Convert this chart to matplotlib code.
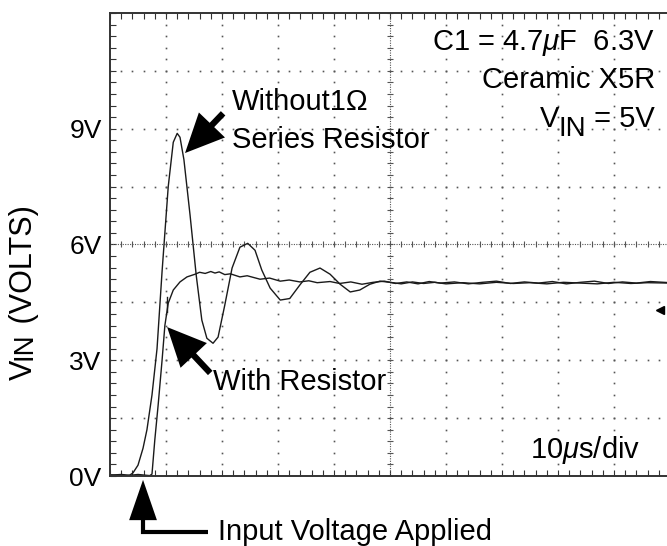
import numpy as np
import matplotlib.pyplot as plt
from matplotlib.ticker import MultipleLocator

plt.rcParams['font.family'] = ['Liberation Sans', 'DejaVu Sans']
plt.rcParams['mathtext.fontset'] = 'custom'
plt.rcParams['mathtext.rm'] = 'Liberation Sans'
plt.rcParams['mathtext.it'] = 'Liberation Sans:italic'

# scope traces, time in us (10us/div), voltage in V (1.5V/div)
t_no_res = [0, 2, 3.5, 4.1, 5.0, 5.9, 6.6, 7.5, 8.4, 9.3, 10.4, 11.3, 12.0, 12.5,
            13.2, 14.3, 15.4, 16.4, 17.3, 18.4, 19.3, 20.5, 21.8, 23.2, 24.6,
            25.9, 27.1, 28.6, 30.4, 32.1, 33.9, 35.7, 37.5, 39.3, 41.1, 42.9,
            44.6, 46.4, 48.2, 50, 52, 54, 56, 58, 60, 63, 66, 69, 72, 75, 78,
            81, 84, 87, 90, 93, 96, 100]
v_no_res = [0.02, 0.04, 0.02, 0.08, 0.28, 0.72, 1.2, 2.1, 3.3, 5.3, 7.5, 8.65,
            8.88, 8.78, 8.2, 6.76, 5.2, 4.04, 3.57, 3.44, 3.6, 4.43, 5.39, 5.93,
            6.03, 5.85, 5.34, 4.87, 4.56, 4.6, 4.95, 5.28, 5.39, 5.23, 4.97,
            4.77, 4.82, 4.97, 5.05, 5.02, 4.98, 5.03, 4.99, 5.02, 4.98, 5.01,
            4.98, 5.02, 4.99, 5.01, 4.98, 5.02, 5.0, 4.98, 5.02, 4.99, 5.01, 5.0]

t_res = [0, 3, 5, 7.1, 7.5, 8.0, 8.6, 9.3, 9.8, 10.4, 11.3, 12.5, 13.75, 15.2,
         16.0, 17.0, 18.0, 18.75, 19.5, 20.5, 21.5, 23.2, 24.5, 26.8, 28.5,
         30.4, 32.0, 33.9, 35.5, 37.0, 39.3, 41.0, 43.0, 45.0, 47.0, 49.0, 51.0,
         53.0, 55.0, 57.0, 59.0, 61.5, 64.0, 66.5, 69.0, 71.5, 74.0, 76.5, 79.0,
         81.5, 84.0, 86.5, 89.0, 91.5, 94.0, 96.5, 100]
v_res = [0.03, 0.01, 0.04, 0.01, 0.05, 0.93, 1.84, 3.0, 3.9, 4.48, 4.82, 5.03,
         5.16, 5.23, 5.28, 5.25, 5.3, 5.26, 5.29, 5.22, 5.24, 5.16, 5.19, 5.1,
         5.13, 5.05, 5.08, 5.03, 5.06, 5.01, 5.04, 4.99, 5.03, 4.97, 5.02, 5.05,
         4.99, 5.03, 4.98, 5.04, 5.0, 5.03, 4.98, 5.02, 5.05, 4.99, 5.03, 5.0,
         5.04, 4.98, 5.02, 5.05, 4.99, 5.03, 5.0, 5.04, 5.01]

ytick_vals = [0, 3, 6, 9]
ytick_labels = ['0V', '3V', '6V', '9V']

fig = plt.figure(figsize=(6.67, 5.46), dpi=100)
ax = fig.add_axes([0.1649, 0.1282, 0.8396, 0.848])
ax.set_xlim(0, 100)
ax.set_ylim(0, 12)

# dotted scope graticule
dot_c = '#555555'
minor_x = np.arange(0, 100.1, 2)
minor_y = np.arange(0, 12.01, 0.3)
for gx in range(10, 100, 10):
    if gx == 50:
        continue
    ax.plot(np.full_like(minor_y, gx), minor_y, ls='none', marker='s',
            ms=1.2, mew=0, color=dot_c)
for gy in np.arange(1.5, 12, 1.5):
    if abs(gy - 6) < 1e-6:
        continue
    ax.plot(minor_x, np.full_like(minor_x, gy), ls='none', marker='s',
            ms=1.2, mew=0, color=dot_c)
# centre lines with small cross ticks
ax.axvline(50, color=dot_c, lw=0.8, ls=(0, (1, 1.2)))
ax.axhline(6, color=dot_c, lw=0.8, ls=(0, (1, 1.2)))
ax.plot(np.full_like(minor_y, 50), minor_y, ls='none', marker='_', ms=5,
        mew=0.8, color=dot_c)
ax.plot(minor_x, np.full_like(minor_x, 6), ls='none', marker='|', ms=5,
        mew=0.8, color=dot_c)

# traces
ax.plot(t_no_res, v_no_res, color='#1a1a1a', lw=1.0)
ax.plot(t_res, v_res, color='#1a1a1a', lw=1.0)
ax.plot([10.2, 10.2], [4.25, 4.65], color='#1a1a1a', lw=1.0)

# channel marker at right edge
ax.plot([98.2], [4.3], marker='<', ms=6, color='black', clip_on=False)

for s in ['left', 'top', 'bottom']:
    ax.spines[s].set_color('#333333')
    ax.spines[s].set_linewidth(1.4)
ax.spines['right'].set_visible(False)

ax.set_yticks(ytick_vals)
ax.set_yticklabels(ytick_labels, fontsize=19)
ax.yaxis.set_minor_locator(MultipleLocator(0.3))
ax.xaxis.set_major_locator(MultipleLocator(10))
ax.xaxis.set_minor_locator(MultipleLocator(2))
ax.tick_params(which='both', direction='in', length=4, width=0.8,
               color='#333333', top=True, right=False, labelbottom=False,
               pad=6)

fs = 21

# y label: V with full-size "IN" set a bit lower, rotated
lv = ax.annotate('V', xy=(9, 166), xycoords='figure pixels', fontsize=fs + 1,
                 rotation=90, ha='left', va='bottom')
lin = ax.annotate('IN', xy=(0, 1), xycoords=lv, xytext=(3, 0),
                  textcoords='offset pixels', fontsize=fs - 1, rotation=90,
                  ha='left', va='bottom')
ax.annotate(' (VOLTS)', xy=(0, 1), xycoords=lin, xytext=(-3, 0),
            textcoords='offset pixels', fontsize=fs + 1, rotation=90,
            ha='left', va='bottom')

# setup notes, top right
ax.text(97.3, 11.04, r'C1 = 4.7$\mu$F  6.3V', fontsize=fs, ha='right',
        va='baseline')
ax.text(97.3, 10.05, 'Ceramic X5R', fontsize=fs, ha='right', va='baseline')
t5 = ax.text(97.3, 9.04, ' = 5V', fontsize=fs, ha='right', va='baseline')
tin = ax.annotate('IN', xy=(0, 0), xycoords=t5, xytext=(0, -9),
                  textcoords='offset pixels', fontsize=fs - 1, ha='right',
                  va='bottom')
ax.annotate('V', xy=(0, 0), xycoords=tin, xytext=(1, 9),
            textcoords='offset pixels', fontsize=fs, ha='right', va='bottom')
ax.text(94.6, 0.47, r'10$\mu$s/div', fontsize=fs, ha='right', va='baseline')

arrow_kw = dict(arrowstyle='simple,head_length=2.8,head_width=2.6,tail_width=0.45',
                mutation_scale=10, lw=0, fc='black', ec='none',
                shrinkA=0, shrinkB=0)

ax.text(21.8, 9.48, 'Without1\u03a9', fontsize=fs, va='baseline')
ax.text(21.8, 8.50, 'Series Resistor', fontsize=fs, va='baseline')
ax.annotate('', xy=(13.4, 8.37), xytext=(20.2, 9.4), arrowprops=arrow_kw)

ax.text(18.4, 2.23, 'With Resistor', fontsize=fs, va='baseline')
ax.annotate('', xy=(10.2, 3.86), xytext=(17.9, 2.67), arrowprops=arrow_kw)

# input voltage applied arrow (L-shaped)
ax.plot([5.9, 5.9, 17.5], [-0.8, -1.45, -1.45], color='black', lw=3.0,
        clip_on=False, solid_joinstyle='miter', solid_capstyle='butt')
ax.annotate('', xy=(5.9, -0.10), xytext=(5.9, -0.95),
            annotation_clip=False,
            arrowprops=dict(arrowstyle='simple,head_length=2.9,head_width=2.0,'
                                       'tail_width=0.4',
                            mutation_scale=10, lw=0, fc='black', ec='none',
                            shrinkA=0, shrinkB=0))
ax.text(19.2, -1.66, 'Input Voltage Applied', fontsize=fs, va='baseline',
        clip_on=False)

fig.savefig('out.png', dpi=100)
